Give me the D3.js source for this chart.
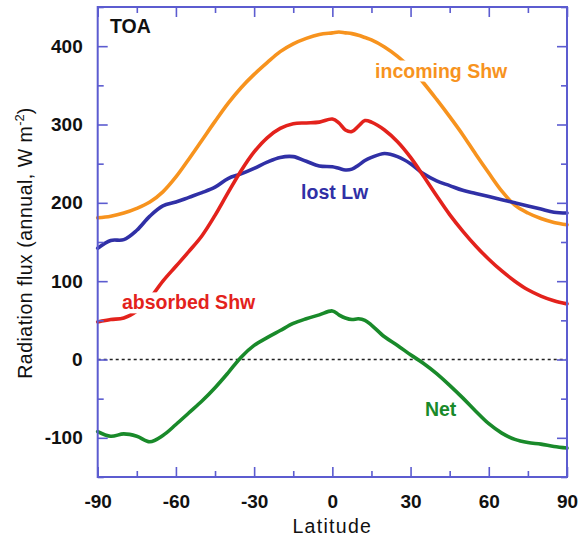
<!DOCTYPE html>
<html>
<head>
<meta charset="utf-8">
<script src="https://cdn.jsdelivr.net/npm/d3@7"></script>
<style type="text/css">
body {
	margin: 0;
	background: #fff;
}
text {
	font-family: "Liberation Sans", Arial, Helvetica, sans-serif;
}
.tick text {
	font-size: 19px;
	font-weight: bold;
	fill: #111;
}
.title {
	font-size: 19.5px;
	letter-spacing: 1.3px;
	fill: #111;
}
.lbl {
	font-size: 19.5px;
	font-weight: bold;
}
</style>
</head>
<body>
<svg id="chart" width="581" height="540"></svg>
<script type="text/javascript">
// latitude grid (deg), finer near the equator
var latitude = [-90, -85, -80, -75, -70, -65, -60, -55, -50, -45, -40, -35, -30, -25, -20, -15, -10, -5,
	0, 2.5, 5, 7.5, 10, 12.5, 15, 20, 25, 30, 35, 40, 45, 50, 55, 60, 65, 70, 75, 80, 85, 90];

// annual TOA fluxes, W m-2
var incomingShw = [181, 183, 187, 193, 201, 214, 233, 256, 280, 304, 327, 347, 364, 379, 393, 403, 410, 415,
	417, 418, 417, 416, 414, 411, 408, 399, 387, 372, 353, 332, 310, 287, 262, 238, 215, 197, 187, 180, 175, 172];
var absorbedShw = [48, 51, 53, 62, 78, 100, 119, 138, 158, 184, 213, 241, 265, 283, 295, 301, 302, 303,
	307, 302, 293, 291, 298, 305, 303, 293, 278, 258, 234, 209, 185, 164, 145, 128, 113, 100, 89, 81, 75, 71];
var lostLw = [142, 152, 153, 165, 183, 196, 201, 207, 213, 220, 231, 237, 244, 252, 258, 259, 253, 247,
	246, 244, 242, 243, 248, 254, 258, 263, 259, 250, 237, 228, 222, 216, 212, 208, 204, 200, 196, 192, 188, 187];
var net = [-92, -98, -95, -98, -105, -97, -83, -68, -53, -36, -17, 3, 18, 28, 37, 46, 52, 57,
	62, 57, 53, 51, 52, 50, 44, 29, 18, 6, -5, -18, -33, -49, -66, -82, -94, -102, -106, -108, -111, -113];

var xMajor = [-90, -60, -30, 0, 30, 60, 90];
var xMinor = [-75, -45, -15, 15, 45, 75];
var yMajor = [-100, 0, 100, 200, 300, 400];
var yMinor = [-150, -50, 50, 150, 250, 350, 450];

var series = [
	{name: "incoming Shw", values: incomingShw, color: "#f7931e", lat: 16.4, val: 360},
	{name: "lost Lw", values: lostLw, color: "#3030a6", lat: -12.0, val: 204.5},
	{name: "absorbed Shw", values: absorbedShw, color: "#e3221c", lat: -80.7, val: 64},
	{name: "Net", values: net, color: "#198a2a", lat: 35.5, val: -72.5}
];

var frameColor = "#5c5cd0";
var plotL = 97.7, plotR = 567, plotT = 7, plotB = 477;
var fmt = function(d) { return String(d); }; // plain hyphen minus, as in the figure

var svg = d3.select("#chart");
var x = d3.scaleLinear().domain([-90, 90]).range([plotL, plotR]);
var y = d3.scaleLinear().domain([-150, 450]).range([plotB, plotT]);

// zero reference line
svg.append("line")
	.attr("x1", x(-90)).attr("x2", x(90))
	.attr("y1", y(0)).attr("y2", y(0))
	.style("stroke", "#222").style("stroke-width", 1.6)
	.style("stroke-dasharray", "3,3");

var line = d3.line()
	.x(function(d, i) { return x(latitude[i]); })
	.y(function(d) { return y(d); })
	.curve(d3.curveCatmullRom.alpha(0.5));

svg.selectAll("path.flux").data(series).enter()
	.append("path").attr("class", "flux")
	.attr("d", function(d) { return line(d.values); })
	.style("fill", "none")
	.style("stroke", function(d) { return d.color; })
	.style("stroke-width", 3.6)
	.style("stroke-linejoin", "round").style("stroke-linecap", "round");

// series labels sit on a white patch that cuts the curves behind them
var lbl = svg.selectAll("g.lbl").data(series).enter().append("g");
lbl.append("text").attr("class", "lbl")
	.attr("x", function(d) { return x(d.lat); })
	.attr("y", function(d) { return y(d.val); })
	.style("fill", function(d) { return d.color; })
	.text(function(d) { return d.name; });
lbl.each(function() {
	var g = d3.select(this);
	var b = g.select("text").node().getBBox();
	g.insert("rect", "text")
		.attr("x", b.x - 2).attr("y", b.y + 1)
		.attr("width", b.width + 4).attr("height", b.height - 1)
		.style("fill", "#fff");
});

// axes: ticks point inward on all four sides
function styleAxis(g) {
	g.select(".domain").remove();
	g.selectAll(".tick line").style("stroke", frameColor).style("stroke-width", 1.6);
}
svg.append("g").attr("transform", "translate(0," + plotB + ")")
	.call(d3.axisBottom(x).tickValues(xMajor).tickSize(-10).tickPadding(18).tickFormat(fmt))
	.call(styleAxis);
svg.append("g").attr("transform", "translate(0," + plotB + ")")
	.call(d3.axisBottom(x).tickValues(xMinor).tickSize(-6).tickFormat(""))
	.call(styleAxis);
svg.append("g").attr("transform", "translate(0," + plotT + ")")
	.call(d3.axisTop(x).tickValues(xMajor).tickSize(-10).tickFormat(""))
	.call(styleAxis);
svg.append("g").attr("transform", "translate(0," + plotT + ")")
	.call(d3.axisTop(x).tickValues(xMinor).tickSize(-6).tickFormat(""))
	.call(styleAxis);
svg.append("g").attr("transform", "translate(" + plotL + ",0)")
	.call(d3.axisLeft(y).tickValues(yMajor).tickSize(-10).tickPadding(15).tickFormat(fmt))
	.call(styleAxis);
svg.append("g").attr("transform", "translate(" + plotL + ",0)")
	.call(d3.axisLeft(y).tickValues(yMinor).tickSize(-6).tickFormat(""))
	.call(styleAxis);
svg.append("g").attr("transform", "translate(" + plotR + ",0)")
	.call(d3.axisRight(y).tickValues(yMajor).tickSize(-10).tickFormat(""))
	.call(styleAxis);
svg.append("g").attr("transform", "translate(" + plotR + ",0)")
	.call(d3.axisRight(y).tickValues(yMinor).tickSize(-6).tickFormat(""))
	.call(styleAxis);
svg.selectAll(".tick text").attr("font-family", null).attr("font-size", null);

// frame
svg.append("rect")
	.attr("x", plotL).attr("y", plotT)
	.attr("width", plotR - plotL).attr("height", plotB - plotT)
	.style("fill", "none").style("stroke", frameColor).style("stroke-width", 2);

// panel tag and axis titles
svg.append("text").attr("class", "lbl")
	.attr("x", x(-85.3)).attr("y", y(416.5))
	.style("fill", "#111").text("TOA");

svg.append("text").attr("class", "title")
	.attr("x", x(0)).attr("y", 533)
	.attr("text-anchor", "middle")
	.text("Latitude");

var yt = svg.append("text").attr("class", "title")
	.attr("transform", "translate(32,243) rotate(-90)")
	.attr("text-anchor", "middle")
	.style("letter-spacing", "0.5px");
yt.append("tspan").text("Radiation flux (annual, W m");
yt.append("tspan").attr("dy", -8).style("font-size", "13px").style("letter-spacing", "0px").text("-2");
yt.append("tspan").attr("dy", 8).text(")");
</script>
</body>
</html>
